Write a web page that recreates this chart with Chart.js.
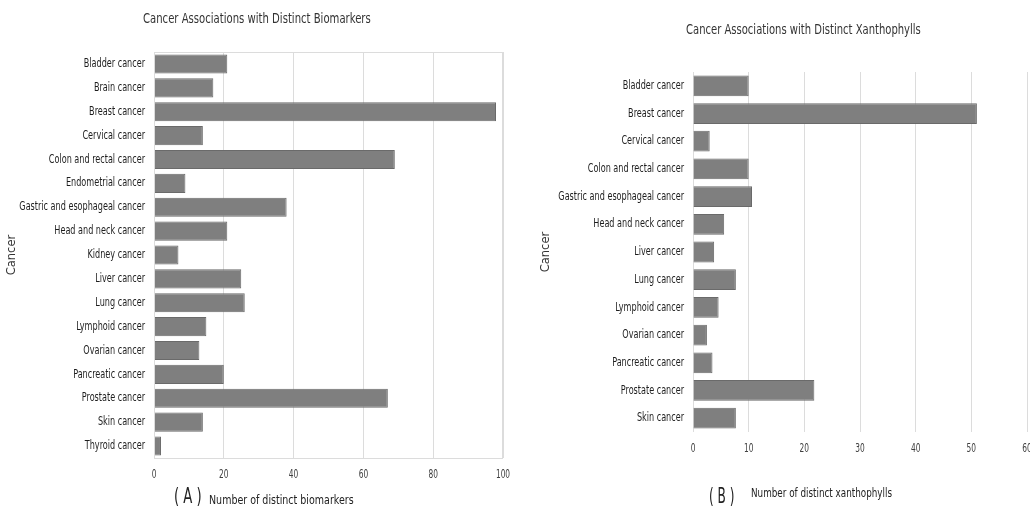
<!DOCTYPE html>
<html>
<head>
<meta charset="utf-8">
<script src="https://cdn.jsdelivr.net/npm/chart.js@4.4.1/dist/chart.umd.min.js"></script>
<style>
    html, body { margin: 0; padding: 0; background: #fff; }
    body { width: 1030px; height: 510px; position: relative; overflow: hidden; font-family: 'DejaVu Sans Condensed', 'DejaVu Sans', sans-serif; color: #333; }
    .box { position: absolute; top: 0; height: 510px; }
    .txt { position: absolute; white-space: nowrap; line-height: 1; transform-origin: 0 0; }
</style>
</head>
<body>
<div class="box" style="left:0;width:520px;"><canvas id="chartA"></canvas></div>
<div class="box" style="left:520px;width:510px;"><canvas id="chartB"></canvas></div>

<div class="txt" style="left:143px;top:11px;font-size:14px;transform:scaleX(0.8);">Cancer Associations with Distinct Biomarkers</div>
<div class="txt" style="left:686px;top:22px;font-size:14px;transform:scaleX(0.795);">Cancer Associations with Distinct Xanthophylls</div>
<div class="txt" style="left:174px;top:486px;font-size:21px;color:#222;transform:scaleX(0.7);">( A )</div>
<div class="txt" style="left:209px;top:494px;font-size:12px;color:#222;transform:scaleX(0.88);">Number of distinct biomarkers</div>
<div class="txt" style="left:709px;top:486px;font-size:21px;color:#222;transform:scaleX(0.64);">( B )</div>
<div class="txt" style="left:751px;top:487px;font-size:12px;color:#222;transform:scaleX(0.815);">Number of distinct xanthophylls</div>

<script>
// Panel A - biomarkers
const cancersA = ['Bladder cancer', 'Brain cancer', 'Breast cancer', 'Cervical cancer', 'Colon and rectal cancer',
    'Endometrial cancer', 'Gastric and esophageal cancer', 'Head and neck cancer', 'Kidney cancer', 'Liver cancer',
    'Lung cancer', 'Lymphoid cancer', 'Ovarian cancer', 'Pancreatic cancer', 'Prostate cancer', 'Skin cancer', 'Thyroid cancer'];
const biomarkers = [21, 17, 98, 14, 69, 9, 38, 21, 7, 25, 26, 15, 13, 20, 67, 14, 2];
const ticksA = [0, 20, 40, 60, 80, 100];

// Panel B - xanthophylls
const cancersB = ['Bladder cancer', 'Breast cancer', 'Cervical cancer', 'Colon and rectal cancer', 'Gastric and esophageal cancer',
    'Head and neck cancer', 'Liver cancer', 'Lung cancer', 'Lymphoid cancer', 'Ovarian cancer', 'Pancreatic cancer',
    'Prostate cancer', 'Skin cancer'];
const xanthophylls = [10, 51, 3, 10, 10.6, 5.6, 3.8, 7.7, 4.6, 2.5, 3.5, 21.8, 7.7];
const ticksB = [0, 10, 20, 30, 40, 50, 60];

const FONT = "'DejaVu Sans Condensed', 'DejaVu Sans', sans-serif";
const BAR = '#7f7f7f';
const GRID = '#dcdcdc';

// light frame around the plot area (panel A only)
const frame = {
    id: 'frame',
    afterDraw(chart, args, opts) {
        if (!opts.show) return;
        const a = chart.chartArea;
        const c = chart.ctx;
        c.save();
        c.strokeStyle = GRID;
        c.lineWidth = 1;
        c.strokeRect(a.left + 0.5, a.top + 0.5, a.right - a.left - 1, a.bottom - a.top);
        c.restore();
    }
};

// tick labels squeezed sideways, the reference uses a narrow face
function narrowText(c, text, x, y, align, sx) {
    c.save();
    c.translate(x, y);
    c.scale(sx, 1);
    c.textAlign = align;
    c.fillText(text, 0, 0);
    c.restore();
}

const narrowTicks = {
    id: 'narrowTicks',
    afterDraw(chart) {
        const c = chart.ctx;
        const xs = chart.scales.x;
        const ys = chart.scales.y;
        c.save();
        c.fillStyle = '#1e1e1e';
        c.textBaseline = 'middle';
        c.font = '12px ' + FONT;
        ys.ticks.forEach((t, i) => {
            narrowText(c, chart.data.labels[i], ys.right - 9, ys.getPixelForTick(i), 'right', 0.75);
        });
        c.fillStyle = '#404040';
        c.font = '11.5px ' + FONT;
        xs.ticks.forEach((t) => {
            narrowText(c, String(t.value), xs.getPixelForValue(t.value), xs.top + 17, 'center', 0.72);
        });
        c.restore();
    }
};

function makeChart(id, labels, values, ticks, cfg) {
    const ctx = document.getElementById(id).getContext('2d');
    return new Chart(ctx, {
        type: 'bar',
        data: {
            labels: labels,
            datasets: [{
                data: values,
                backgroundColor: BAR,
                borderColor: '#6a6a6a',
                borderWidth: 1,
                barPercentage: cfg.barPct,
                categoryPercentage: 1
            }]
        },
        plugins: [frame, narrowTicks],
        options: {
            indexAxis: 'y',
            responsive: true,
            maintainAspectRatio: false,
            animation: false,
            layout: { padding: cfg.padding },
            plugins: {
                legend: { display: false },
                tooltip: { enabled: false },
                frame: { show: cfg.frame }
            },
            scales: {
                x: {
                    min: ticks[0],
                    max: ticks[ticks.length - 1],
                    afterBuildTicks: (s) => { s.ticks = ticks.map(v => ({ value: v })); },
                    afterFit: (s) => {
                        s.height = 30;
                        s.paddingLeft = 0;
                        s.paddingRight = 0;
                    },
                    grid: { color: GRID, drawTicks: false },
                    border: { display: false },
                    ticks: { display: false }
                },
                y: {
                    afterFit: (s) => { s.width = cfg.yWidth; },
                    grid: { display: false, drawTicks: false },
                    border: { display: cfg.frame, color: GRID },
                    ticks: { display: false },
                    title: {
                        display: true,
                        text: 'Cancer',
                        color: '#333',
                        padding: { top: cfg.titlePad, bottom: 0 },
                        font: { family: "'DejaVu Sans', sans-serif", size: 11.5 }
                    }
                }
            }
        }
    });
}

makeChart('chartA', cancersA, biomarkers, ticksA, {
    padding: { top: 52, bottom: 22, left: 0, right: 17 },
    yWidth: 154, barPct: 0.8, titlePad: 5, frame: true
});

makeChart('chartB', cancersB, xanthophylls, ticksB, {
    padding: { top: 72, bottom: 48, left: 0, right: 3 },
    yWidth: 173, barPct: 0.75, titlePad: 19, frame: false
});
</script>
</body>
</html>
